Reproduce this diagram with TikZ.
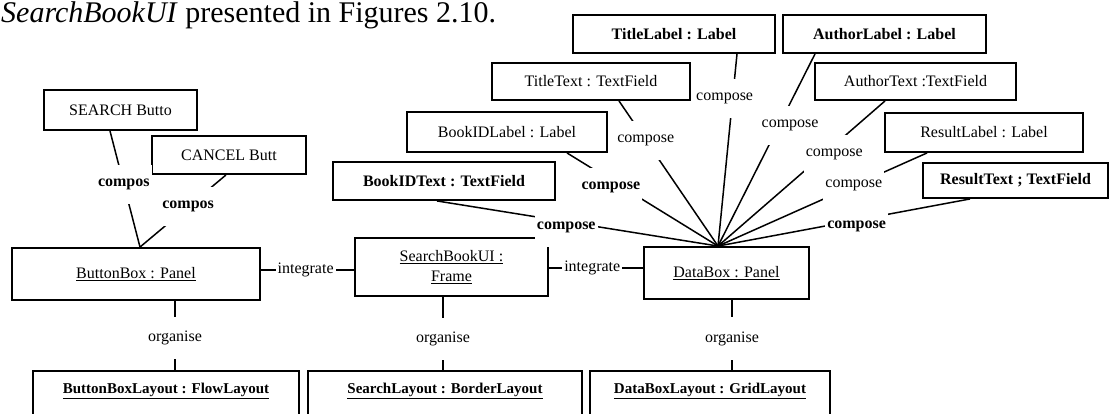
\documentclass[tikz,border=0pt]{standalone}
\usepackage{fontspec}
\setmainfont{Liberation Serif}
\begin{document}
\begin{tikzpicture}[x=1pt,y=-1pt,
  box/.style={draw, line width=1.9pt, inner sep=0pt, align=center,
    font=\fontsize{16}{20}\selectfont},
  boldbox/.style={box, font=\fontsize{16}{20}\selectfont\bfseries},
  layoutbox/.style={box, font=\fontsize{15}{17}\selectfont\bfseries,
    minimum height=50pt, text depth=16pt, anchor=north},
  link/.style={line width=1.5pt},
  tag/.style={fill=white, inner xsep=2pt, inner ysep=14pt,
    font=\fontsize{16}{18}\selectfont},
  boldtag/.style={tag, font=\fontsize{16}{18}\selectfont\bfseries},
]
\useasboundingbox (0,0) rectangle (1111,413);

% running text above the figure
\node[anchor=base west, inner sep=0pt, font=\fontsize{30}{36}\selectfont]
  (caption) at (1,22) {\textit{SearchBookUI} presented in Figures 2.10.};

% button objects
\node[box, minimum width=153pt, minimum height=40pt] (search) at (120.5,110) {SEARCH Butto};
\node[box, minimum width=154pt, minimum height=38pt] (cancel) at (229,155) {CANCEL Butt};

% panels and frame
\node[box, minimum width=248pt, minimum height=52pt] (buttonbox) at (136,274) {\underline{ButtonBox : Panel}};
\node[box, minimum width=193pt, minimum height=58pt] (frame) at (451.5,267) {\underline{SearchBookUI :}\\\underline{Frame}};
\node[box, minimum width=165pt, minimum height=52pt] (databox) at (726.5,273) {\underline{DataBox : Panel}};

% labels and text fields of the data box
\node[boldbox, minimum width=202pt, minimum height=38pt] (titlelabel) at (674,34) {TitleLabel : Label};
\node[boldbox, minimum width=203pt, minimum height=38pt] (authorlabel) at (884.5,34) {AuthorLabel : Label};
\node[box, minimum width=198pt, minimum height=37pt] (titletext) at (591,81.5) {TitleText : TextField};
\node[box, minimum width=201pt, minimum height=37pt] (authortext) at (915.5,81.5) {AuthorText :TextField};
\node[box, minimum width=200pt, minimum height=40pt] (bookidlabel) at (507,132) {BookIDLabel : Label};
\node[box, minimum width=198pt, minimum height=39pt] (resultlabel) at (984,132.5) {ResultLabel : Label};
\node[boldbox, minimum width=222pt, minimum height=38pt] (bookidtext) at (444,181) {BookIDText : TextField};
\node[boldbox, minimum width=185pt, minimum height=35pt] (resulttext) at (1015.5,180.5) {ResultText ; TextField};

% layout managers
\node[layoutbox, minimum width=266pt] (flowlayout) at (166,370) {\underline{ButtonBoxLayout : FlowLayout}};
\node[layoutbox, minimum width=274pt] (borderlayout) at (445,370) {\underline{SearchLayout : BorderLayout}};
\node[layoutbox, minimum width=240pt] (gridlayout) at (710,370) {\underline{DataBoxLayout : GridLayout}};

% all compose links meet here
\coordinate (hub) at ([xshift=-8.5pt]databox.north);

\draw[link] ([xshift=63pt]titlelabel.south) -- node[tag, pos=0.23, xshift=-8pt] {compose} (hub);
\draw[link] ([xshift=-69.5pt]authorlabel.south) -- node[tag, pos=0.37, xshift=11pt] {compose} (hub);
\draw[link] ([xshift=28pt]titletext.south) -- node[tag, pos=0.27] {compose} (hub);
\draw[link] ([xshift=-30.5pt]authortext.south) -- node[tag, pos=0.37, xshift=11pt] {compose} (hub);
\draw[link] ([xshift=60pt]bookidlabel.south) -- node[boldtag, pos=0.37, xshift=-12pt] {compose} (hub);
\draw[link] ([xshift=-57pt]resultlabel.south) -- node[tag, pos=0.35] {compose} (hub);
\draw[link] ([xshift=-7pt]bookidtext.south) -- node[boldtag, pos=0.46, yshift=-6pt] {compose} (hub);
\draw[link] ([xshift=-45.5pt]resulttext.south) -- node[boldtag, pos=0.45, yshift=-6pt] {compose} (hub);

% buttons into the button box
\draw[link] ([xshift=-10.5pt]search.south) -- node[boldtag, pos=0.46] {compos} ([xshift=4pt]buttonbox.north);
\draw[link] ([xshift=-3pt]cancel.south) -- node[boldtag, pos=0.44] {compos} ([xshift=4pt]buttonbox.north);

% panels integrated into the frame
\draw[link] ([yshift=4pt]buttonbox.east) -- node[tag, inner ysep=2pt, pos=0.48] {integrate} ([yshift=-3pt]frame.west);
\draw[link] ([yshift=-1pt]frame.east) -- node[tag, inner ysep=2pt, pos=0.46] {integrate} ([yshift=5pt]databox.west);

% layout managers
\draw[link] ([xshift=39pt]buttonbox.south) -- node[tag, pos=0.54] {organise} ([xshift=9pt]flowlayout.north);
\draw[link] ([xshift=-8.5pt]frame.south) -- node[tag, pos=0.57] {organise} ([xshift=-2pt]borderlayout.north);
\draw[link] ([xshift=5.5pt]databox.south) -- node[tag, pos=0.55] {organise} ([xshift=22pt]gridlayout.north);
\end{tikzpicture}
\end{document}
